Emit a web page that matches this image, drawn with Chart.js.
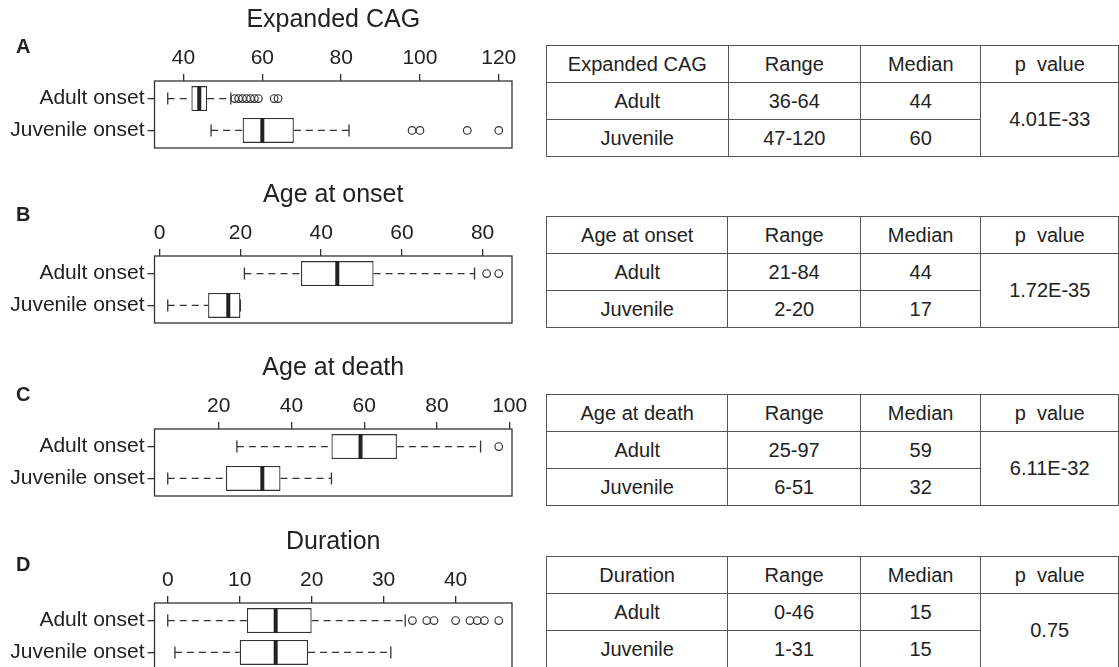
<!DOCTYPE html>
<html>
<head>
<meta charset="utf-8">
<title>CAG repeat length, onset, death and duration</title>
<script src="https://cdn.jsdelivr.net/npm/chart.js@4.4.1/dist/chart.umd.min.js"></script>
<style>
  body { margin: 0; background: #fff; font-family: 'Liberation Sans', Arial, sans-serif; color: #222; }
  #page { position: relative; width: 1119px; height: 667px; overflow: hidden; background: #fff; }
  #page canvas { position: absolute; left: 0; }
  .letter { position: absolute; left: 16px; font-size: 20px; font-weight: bold; line-height: 20px; }
  table.stats { position: absolute; left: 546px; border-collapse: collapse; table-layout: fixed; font-size: 20px; color: #222; }
  table.stats td { border: 1px solid #555; text-align: center; vertical-align: middle; padding: 0; height: 36px; white-space: nowrap; }
</style>
</head>
<body>
<div id="page"></div>
<script>
// Box plot data
const groupLabels = ['Adult onset', 'Juvenile onset'];
const panelTitles = ['Expanded CAG', 'Age at onset', 'Age at death', 'Duration'];
const panelLetters = ['A', 'B', 'C', 'D'];
const axisTicks = [[40, 60, 80, 100, 120], [0, 20, 40, 60, 80], [20, 40, 60, 80, 100], [0, 10, 20, 30, 40]];
const axisLimits = [[32.64, 123.36], [-1.28, 87.28], [2.36, 100.64], [-1.84, 47.84]];

// five-number summaries: [lower whisker, Q1, median, Q3, upper whisker]
const adultStats = [[36, 42, 44, 46, 52], [21, 35, 44, 53, 78], [25, 51, 59, 69, 92], [0, 11, 15, 20, 33]];
const juvenileStats = [[47, 55, 60, 68, 82], [2, 12, 17, 20, 20], [6, 22, 32, 37, 51], [1, 10, 15, 19.5, 31]];
const adultOutliers = [[53, 54, 55, 56, 57, 58, 59, 63, 64], [81, 84], [97], [34, 36, 37, 40, 42, 43, 44, 46]];
const juvenileOutliers = [[98, 100, 112, 120], [], [], []];

// Table data
const tableHeads = ['Range', 'Median', 'p\u00a0\u00a0value'];
const tableGroups = ['Adult', 'Juvenile'];
const adultRanges = ['36-64', '21-84', '25-97', '0-46'];
const juvenileRanges = ['47-120', '2-20', '6-51', '1-31'];
const adultMedians = ['44', '44', '59', '15'];
const juvenileMedians = ['60', '17', '32', '15'];
const pValues = ['4.01E-33', '1.72E-35', '6.11E-32', '0.75'];

// Layout
const panelTops = [0, 175, 348, 522];
const letterTops = [36, 204, 384, 554];
const tableTops = [45, 216, 394, 556];
const colWidths = [182, 133, 121, 138];

const ink = '#222';
const lineInk = '#333';

Chart.defaults.font.family = "'Liberation Sans', Arial, sans-serif";
Chart.defaults.color = ink;

// Draw the full frame around the plot region
const framePlugin = {
    id: 'frame',
    afterDatasetsDraw(chart) {
        const { ctx, chartArea: a } = chart;
        ctx.save();
        ctx.strokeStyle = lineInk;
        ctx.lineWidth = 1.3;
        ctx.strokeRect(a.left, a.top, a.right - a.left, a.bottom - a.top);
        ctx.restore();
    }
};

const page = document.getElementById('page');

function createPanel(i) {
    const canvas = document.createElement('canvas');
    canvas.width = 540;
    canvas.height = 150;
    canvas.style.top = panelTops[i] + 'px';
    page.appendChild(canvas);

    const letter = document.createElement('div');
    letter.className = 'letter';
    letter.style.top = letterTops[i] + 'px';
    letter.textContent = panelLetters[i];
    page.appendChild(letter);

    const stats = [adultStats[i], juvenileStats[i]];
    const outliers = [adultOutliers[i], juvenileOutliers[i]];
    const rows = groupLabels.map((_, k) => k + 1);

    const datasets = [];

    // medians
    datasets.push({
        type: 'scatter',
        data: stats.map((s, k) => ({ x: s[2], y: rows[k] })),
        pointStyle: 'line',
        pointRotation: 90,
        pointRadius: 12.5,
        pointBorderWidth: 4,
        pointBorderColor: ink,
        order: 0
    });

    // whisker caps
    datasets.push({
        type: 'scatter',
        data: stats.flatMap((s, k) => [{ x: s[0], y: rows[k] }, { x: s[4], y: rows[k] }]),
        pointStyle: 'line',
        pointRotation: 90,
        pointRadius: 6,
        pointBorderWidth: 1.3,
        pointBorderColor: lineInk,
        order: 1
    });

    // outliers
    datasets.push({
        type: 'scatter',
        data: outliers.flatMap((o, k) => o.map(v => ({ x: v, y: rows[k] }))),
        pointStyle: 'circle',
        pointRadius: 3.8,
        pointBorderWidth: 1.2,
        pointBorderColor: lineInk,
        pointBackgroundColor: 'rgba(255,255,255,0)',
        order: 1
    });

    // dashed whiskers
    stats.forEach((s, k) => {
        [[s[0], s[1]], [s[3], s[4]]].forEach(seg => {
            datasets.push({
                type: 'line',
                data: seg.map(v => ({ x: v, y: rows[k] })),
                borderColor: lineInk,
                borderWidth: 1.3,
                borderDash: [7, 5],
                pointRadius: 0,
                order: 2
            });
        });
    });

    // boxes (Q1 to Q3)
    datasets.push({
        type: 'bar',
        indexAxis: 'y',
        data: stats.map((s, k) => ({ x: [s[1], s[3]], y: rows[k] })),
        backgroundColor: '#fff',
        borderColor: lineInk,
        borderWidth: 1.3,
        borderSkipped: false,
        categoryPercentage: 0.78,
        barPercentage: 1,
        order: 3
    });

    const tickGrid = {
        offset: false,
        drawOnChartArea: false,
        drawTicks: true,
        tickLength: 7,
        color: lineInk,
        lineWidth: 1.3
    };

    new Chart(canvas, {
        type: 'bar',
        data: { datasets: datasets },
        options: {
            responsive: false,
            animation: false,
            events: [],
            indexAxis: 'y',
            layout: { autoPadding: false, padding: { left: 0, right: 28, top: 0, bottom: 2 } },
            plugins: {
                legend: { display: false },
                tooltip: { enabled: false },
                title: {
                    display: true,
                    text: panelTitles[i],
                    fullSize: false,
                    color: ink,
                    font: { size: 25, weight: 'normal' },
                    padding: { top: 5, bottom: 0 }
                }
            },
            scales: {
                x: {
                    type: 'linear',
                    position: 'top',
                    offset: false,
                    min: axisLimits[i][0],
                    max: axisLimits[i][1],
                    afterBuildTicks: axis => { axis.ticks = axisTicks[i].map(v => ({ value: v })); },
                    afterFit: axis => {
                        axis.height = 46;
                        axis.paddingLeft = 0;
                        axis.paddingRight = 0;
                    },
                    ticks: {
                        color: ink,
                        font: { size: 21 },
                        padding: 3,
                        autoSkip: false,
                        maxRotation: 0
                    },
                    grid: tickGrid,
                    border: { display: false }
                },
                y: {
                    type: 'linear',
                    position: 'left',
                    offset: false,
                    reverse: true,
                    min: 0.45,
                    max: 2.55,
                    afterBuildTicks: axis => { axis.ticks = rows.map(v => ({ value: v })); },
                    afterFit: axis => {
                        axis.width = 154.5;
                        axis.paddingTop = 0;
                        axis.paddingBottom = 0;
                    },
                    ticks: {
                        color: ink,
                        font: { size: 21 },
                        padding: 3,
                        autoSkip: false,
                        callback: v => groupLabels[v - 1]
                    },
                    grid: tickGrid,
                    border: { display: false }
                }
            }
        },
        plugins: [framePlugin]
    });
}

function createTable(i) {
    const table = document.createElement('table');
    table.className = 'stats';
    table.style.top = tableTops[i] + 'px';

    const colgroup = document.createElement('colgroup');
    colWidths.forEach(w => {
        const col = document.createElement('col');
        col.style.width = w + 'px';
        colgroup.appendChild(col);
    });
    table.appendChild(colgroup);

    const rowsText = [
        [panelTitles[i]].concat(tableHeads),
        [tableGroups[0], adultRanges[i], adultMedians[i], pValues[i]],
        [tableGroups[1], juvenileRanges[i], juvenileMedians[i]]
    ];
    rowsText.forEach((cells, r) => {
        const tr = document.createElement('tr');
        cells.forEach((text, c) => {
            const td = document.createElement('td');
            td.textContent = text;
            if (r === 1 && c === 3) td.rowSpan = 2;
            tr.appendChild(td);
        });
        table.appendChild(tr);
    });
    page.appendChild(table);
}

for (let i = 0; i < panelTitles.length; i++) {
    createPanel(i);
    createTable(i);
}
</script>
</body>
</html>
